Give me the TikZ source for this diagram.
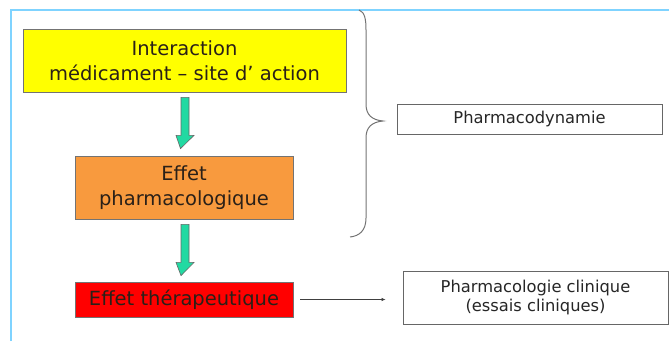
\documentclass[tikz,border=0pt]{standalone}
\usepackage{fontspec}
\setmainfont{DejaVu Sans}
\usetikzlibrary{calc,arrows.meta}
\definecolor{borderblue}{HTML}{7FD3FF}
\definecolor{boxyellow}{HTML}{FFFF00}
\definecolor{boxorange}{HTML}{F89A3E}
\definecolor{boxred}{HTML}{FF0000}
\definecolor{arrowgreen}{HTML}{22D9A2}
\definecolor{txt}{HTML}{2A2018}
\tikzset{
  bigbox/.style={draw=black!55, line width=0.8pt, rectangle, align=center, inner sep=0pt,
    text=txt, font=\fontsize{19.5}{25}\selectfont},
  smallbox/.style={draw=black!60, line width=0.8pt, fill=white, rectangle, align=center, inner sep=0pt,
    text=black!85, font=\fontsize{16.3}{19.5}\selectfont},
  blockarrow/.style={fill=arrowgreen, draw=black!60, line width=0.6pt, line join=miter},
  brace/.style={draw=black!55, line width=1pt},
  thinarrow/.style={draw=black!75, line width=0.7pt, -{Latex[length=4pt,width=3.5pt]}},
}
\begin{document}
\begin{tikzpicture}[x=1pt,y=-1pt]
\useasboundingbox (0,0) rectangle (669,341);
% frame lines
\draw[borderblue, line width=1.5pt] (11,341) -- (11,10) -- (669,10);
% boxes
\node[bigbox, fill=boxyellow, minimum width=323pt, minimum height=63pt] (inter) at (184.5,60.5)
  {Interaction\\médicament – site d’ action};
\node[bigbox, fill=boxorange, minimum width=218pt, minimum height=63pt] (pharm) at (184,187.5)
  {Effet\\pharmacologique};
\node[bigbox, fill=boxred, minimum width=218pt, minimum height=35pt] (thera) at (184,299.5)
  {Effet thérapeutique};
\node[smallbox, minimum width=265pt, minimum height=30pt] (dyn) at (529.5,119)
  {Pharmacodynamie};
\node[smallbox, minimum width=265pt, minimum height=53pt] (clin) at (535.5,297.5)
  {Pharmacologie clinique\\(essais cliniques)};
% block arrows
\coordinate (a1) at ($(inter.south)+(-3.5,5)$);
\draw[blockarrow] (a1) -- ++(8,0) -- ++(0,38) -- ++(5,0) -- ($(pharm.north)+(-3.5,-7)$) -- ($(a1)+(-5,38)$) -- ++(5,0) -- cycle;
\coordinate (a2) at ($(pharm.south)+(-3,5)$);
\draw[blockarrow] (a2) -- ++(8,0) -- ++(0,38) -- ++(5,0) -- ($(thera.north)+(-3,-6)$) -- ($(a2)+(-5,38)$) -- ++(5,0) -- cycle;
% thin arrow
\draw[thinarrow, shorten <=7pt, shorten >=17pt] (thera.east) -- (thera.east -| clin.west);
% brace
\draw[brace] (359,10) .. controls (365,12) and (366,20) .. (366,30) -- (366,104)
  .. controls (366,115) and (372,120) .. (383,121)
  .. controls (372,122) and (366,127) .. (366,138) -- (366,218)
  .. controls (366,231) and (359,236) .. (350,237);
\end{tikzpicture}
\end{document}
